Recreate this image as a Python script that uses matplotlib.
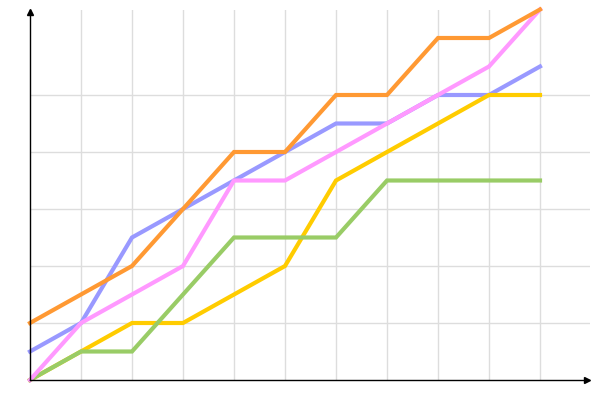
import matplotlib
matplotlib.use("Agg")
import matplotlib.pyplot as plt

x = list(range(11))
blue = [0.5, 1, 2.5, 3, 3.5, 4, 4.5, 4.5, 5, 5, 5.5]
yellow = [0, 0.5, 1, 1, 1.5, 2, 3.5, 4, 4.5, 5, 5]
green = [0, 0.5, 0.5, 1.5, 2.5, 2.5, 2.5, 3.5, 3.5, 3.5, 3.5]
pink = [0, 1, 1.5, 2, 3.5, 3.5, 4, 4.5, 5, 5.5, 6.5]
orange = [1, 1.5, 2, 3, 4, 4, 5, 5, 6, 6, 6.5]

series = [
    (blue, "#9999ff"),
    (yellow, "#ffcc00"),
    (green, "#99cc66"),
    (pink, "#ff99ff"),
    (orange, "#ff9933"),
]

fig = plt.figure(figsize=(6, 4), dpi=100)
ax = fig.add_axes([30/600, 20/400, 560/600, 370/400])
xmax = 560/51
ymax = 370/57
ax.set_xlim(0, xmax)
ax.set_ylim(0, ymax)

for gx in range(1, 11):
    ax.axvline(gx, color="#dddddd", lw=1, zorder=0)
for gy in range(1, 6):
    ax.axhline(gy, color="#dddddd", lw=1, zorder=0)

for vals, c in series:
    ax.plot(x, vals, color=c, lw=3, clip_on=False, zorder=3, solid_joinstyle="miter")

for s in ax.spines.values():
    s.set_visible(False)
ax.plot([0, xmax - 0.03], [0, 0], color="black", lw=1, clip_on=False, zorder=4)
ax.plot([0, 0], [0, ymax], color="black", lw=1, clip_on=False, zorder=4)
ax.plot([xmax - 0.05], [0], marker=">", color="black", ms=4, clip_on=False, zorder=5)
ax.plot([0], [ymax - 0.04], marker="^", color="black", ms=4, clip_on=False, zorder=5)

ax.set_xticks([])
ax.set_yticks([])
fig.savefig("out.png", dpi=100)
